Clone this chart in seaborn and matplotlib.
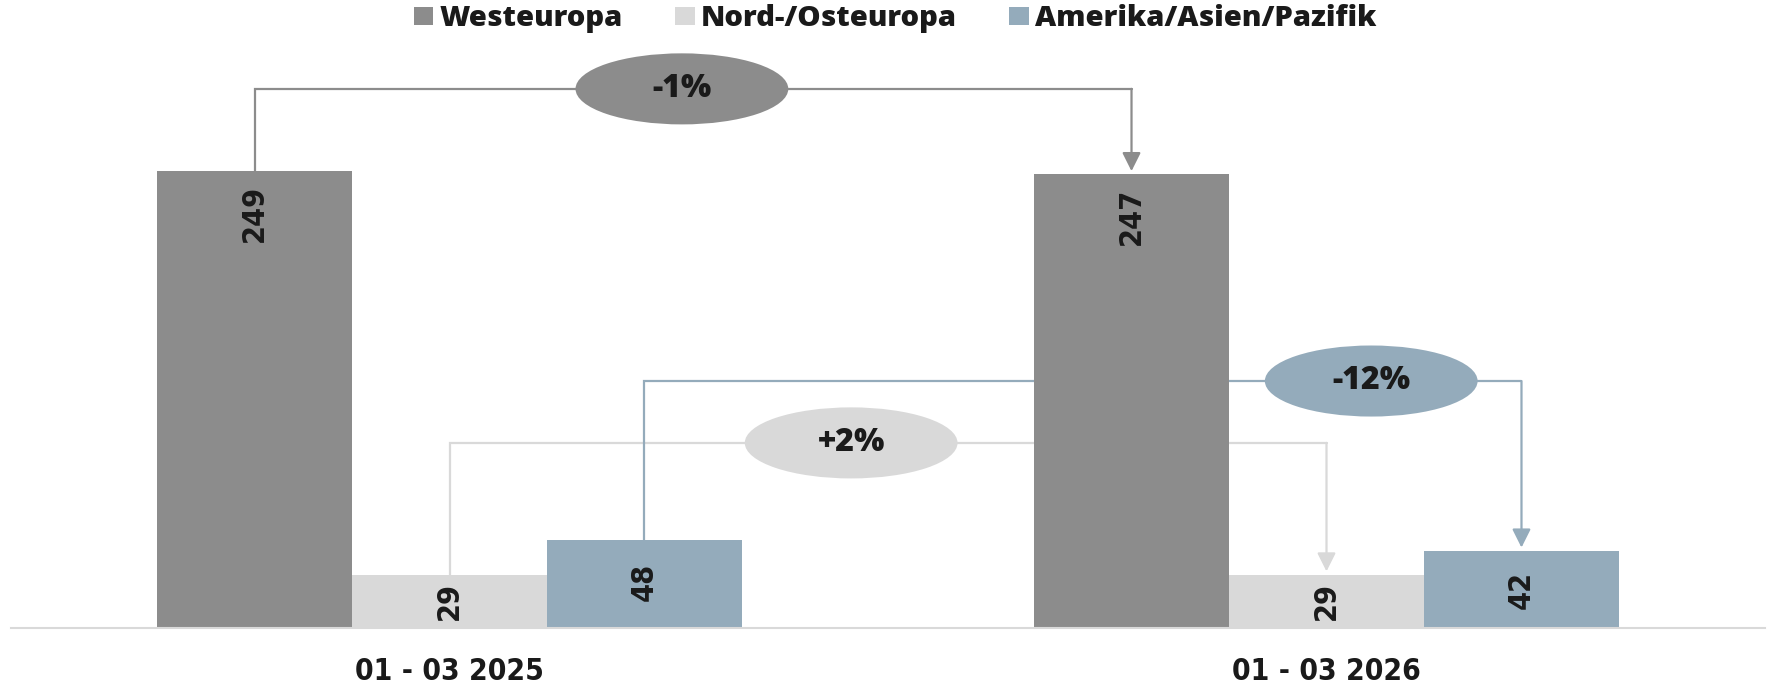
import matplotlib
matplotlib.use("Agg")
import matplotlib.pyplot as plt
from matplotlib.patches import Ellipse, Patch
import pandas as pd
import seaborn as sns

periods = ["01 - 03 2025", "01 - 03 2026"]
regions = ["Westeuropa", "Nord-/Osteuropa", "Amerika/Asien/Pazifik"]
west = [249, 247]
nord = [29, 29]
amerika = [48, 42]
changes = ["-1%", "+2%", "-12%"]

colors = ["#8c8c8c", "#d9d9d9", "#94abbb"]
text_color = "#1a1a1a"
num_font = dict(family=["DejaVu Sans Condensed", "DejaVu Sans"], stretch="condensed", weight="bold")

df = pd.DataFrame({
    "period": periods * 3,
    "region": [r for r in regions for _ in periods],
    "value": west + nord + amerika,
})

sns.set_style("white")
fig = plt.figure(figsize=(17.68, 6.83), dpi=100)
ax = fig.add_axes([11 / 1768, 55 / 683, 1754 / 1768, 628 / 683])

sns.barplot(data=df, x="period", y="value", hue="region", hue_order=regions,
            palette=colors, width=0.667, saturation=1, legend=False, ax=ax,
            zorder=2, linewidth=0, edgecolor="none")

ax.set_xlim(-0.5, 1.5)
ax.set_ylim(0, 342)
ax.set_xlabel("")
ax.set_ylabel("")
ax.set_yticks([])
for s in ["top", "left", "right"]:
    ax.spines[s].set_visible(False)
ax.spines["bottom"].set_color("#d9d9d9")
ax.spines["bottom"].set_linewidth(1.5)
ax.tick_params(axis="x", length=0, pad=21)
for lbl in ax.get_xticklabels():
    lbl.set_color(text_color)
    lbl.set_fontproperties(matplotlib.font_manager.FontProperties(size=21.5, **num_font))

# value labels inside bars
for cont in ax.containers:
    for p in cont.patches:
        h = p.get_height()
        yc = max(h - 23, h / 2)
        ax.text(p.get_x() + p.get_width() / 2, yc, f"{h:.0f}", rotation=90,
                ha="center", va="center", fontsize=22, color=text_color, zorder=4, **num_font)

# change brackets: (hue index, line level, label x)
brackets = [(0, 293.6, 0.265), (1, 100.8, 0.458), (2, 134.5, 1.051)]
for (i, level, ex), txt in zip(brackets, changes):
    p0, p1 = ax.containers[i].patches
    x0 = p0.get_x() + p0.get_width() / 2
    x1 = p1.get_x() + p1.get_width() / 2
    ax.plot([x0, x0, x1], [p0.get_height(), level, level], color=colors[i],
            lw=1.6, zorder=1 + i * 0.1, solid_joinstyle="miter")
    ax.annotate("", xy=(x1, p1.get_height() + 1.8), xytext=(x1, level),
                arrowprops=dict(arrowstyle="-|>,head_length=0.4,head_width=0.2",
                                mutation_scale=28, color=colors[i], lw=1.6,
                                shrinkA=0, shrinkB=0), zorder=1 + i * 0.1)
    ax.add_patch(Ellipse((ex, level), 0.2426, 38.7, facecolor=colors[i],
                         edgecolor="none", zorder=3))
    ax.text(ex, level, txt, ha="center", va="center", fontsize=23,
            fontfamily="Open Sans", fontweight="heavy", color=text_color, zorder=4)

handles = [Patch(facecolor=c, edgecolor="none") for c in colors]
leg = ax.legend(handles, regions, loc="center", bbox_to_anchor=(0.504, 0.97), ncol=3,
                frameon=False, handlelength=0.66, handleheight=0.57, handletextpad=0.2,
                columnspacing=1.8, borderaxespad=0,
                prop=dict(family="Open Sans", weight="heavy", size=21.1))
for t in leg.get_texts():
    t.set_color(text_color)

fig.savefig("out.png", dpi=100)
